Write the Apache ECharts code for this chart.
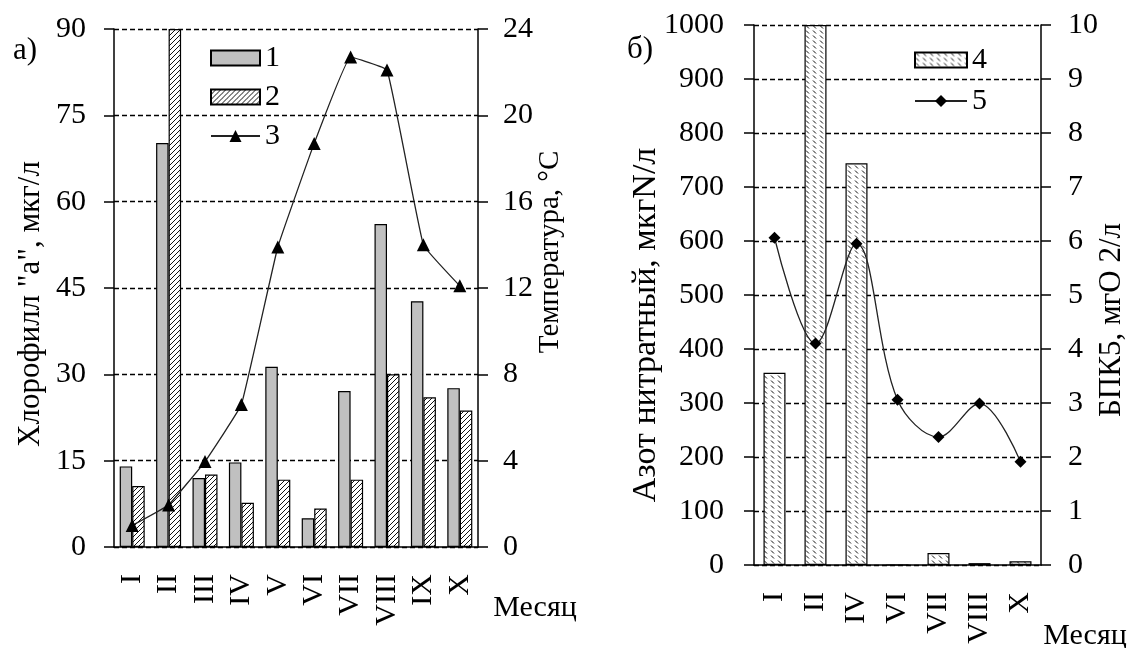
<!DOCTYPE html>
<html>
<head>
<meta charset="utf-8">
<script src="https://cdn.jsdelivr.net/npm/echarts@6/dist/echarts.min.js"></script>
<style>
  html, body { margin: 0; background: #fff; }
  #chart { width: 1131px; height: 648px; }
</style>
</head>
<body>
<div id="chart"></div>
<script>
// panel a) chlorophyll "a" (bars) and water temperature (line)
var monthsA = ['I', 'II', 'III', 'IV', 'V', 'VI', 'VII', 'VIII', 'IX', 'X'];
var chl1 = [14.0, 70.2, 12.0, 14.7, 31.3, 5.0, 27.1, 56.1, 42.7, 27.6];
var chl2 = [10.6, 90.0, 12.6, 7.7, 11.7, 6.7, 11.7, 30.0, 26.0, 23.7];
var temperature = [1.0, 1.95, 3.96, 6.6, 13.9, 18.7, 22.7, 22.1, 14.0, 12.1];

// panel б) nitrate nitrogen (bars) and BOD5 (line)
var monthsB = ['I', 'II', 'IV', 'VI', 'VII', 'VIII', 'X'];
var nitrate = [356, 1000, 744, 0, 22, 3.5, 7];
var bod5 = [6.06, 4.10, 5.95, 3.06, 2.37, 2.99, 1.91];

// axis ranges [min, max, interval]
var chlAxis = [0, 90, 15];
var tempAxis = [0, 24, 4];
var nitrAxis = [0, 1000, 100];
var bodAxis = [0, 10, 1];

var FONT = 'Liberation Serif';
var INK = '#000';
var FS = 30;

// fill patterns, drawn on small canvases
function tile(w, h, draw) {
  var c = document.createElement('canvas');
  c.width = w; c.height = h;
  var g = c.getContext('2d');
  g.fillStyle = '#fff';
  g.fillRect(0, 0, w, h);
  g.strokeStyle = '#111';
  g.lineWidth = 1;
  draw(g, w, h);
  return { image: c, repeat: 'repeat' };
}
var slash = tile(5, 5, function (g, w, h) {
  g.beginPath();
  g.moveTo(-1, h + 1); g.lineTo(w + 1, -1);
  g.moveTo(-1, 1); g.lineTo(1, -1);
  g.moveTo(w - 1, h + 1); g.lineTo(w + 1, h - 1);
  g.stroke();
});
var dashes = tile(7, 5, function (g) {
  g.beginPath();
  g.moveTo(1, 0.5); g.lineTo(4, 3.5);
  g.stroke();
});

function yAxis(grid, r, pos, margin, split) {
  return {
    type: 'value', gridIndex: grid, min: r[0], max: r[1], interval: r[2], position: pos,
    axisLine: { show: true, lineStyle: { color: INK, width: 1.5 } },
    axisTick: { show: true, length: 10, lineStyle: { color: INK, width: 1.5 } },
    axisLabel: {
      margin: margin, fontSize: FS, fontFamily: FONT, color: INK,
      formatter: function (v) { return String(v); }
    },
    splitLine: { show: split, lineStyle: { color: INK, width: 1.3, type: [5, 3] } }
  };
}
function xAxis(grid, data) {
  return {
    type: 'category', gridIndex: grid, data: data,
    axisLine: { lineStyle: { color: INK, width: 1.5 } },
    axisTick: { length: 10, lineStyle: { color: INK, width: 1.5 } },
    axisLabel: { rotate: 90, margin: 27, interval: 0, fontSize: FS, fontFamily: FONT, color: INK }
  };
}
function label(text, x, y, size, rot) {
  return {
    type: 'text', x: x, y: y, rotation: rot || 0,
    style: {
      text: text, fontSize: size, fontFamily: FONT, fill: INK,
      align: 'center', verticalAlign: 'middle'
    }
  };
}

var chart = echarts.init(document.getElementById('chart'));
chart.setOption({
  animation: false,
  textStyle: { fontFamily: FONT, color: INK },
  grid: [
    { left: 114, right: 653, top: 29, bottom: 101 },
    { left: 754, right: 90, top: 25, bottom: 83 }
  ],
  xAxis: [xAxis(0, monthsA), xAxis(1, monthsB)],
  yAxis: [
    yAxis(0, chlAxis, 'left', 28, true),
    yAxis(0, tempAxis, 'right', 25, false),
    yAxis(1, nitrAxis, 'left', 30, true),
    yAxis(1, bodAxis, 'right', 27, false)
  ],
  legend: [
    {
      data: [{ name: '1', icon: 'rect' }, { name: '2', icon: 'rect' }, '3'],
      orient: 'vertical', left: 210, top: 43, padding: 0,
      itemWidth: 49, itemHeight: 15, itemGap: 9,
      textStyle: { fontSize: FS, fontFamily: FONT, color: INK, lineHeight: 29 }
    },
    {
      data: [{ name: '4', icon: 'rect' }, '5'],
      orient: 'vertical', left: 914, top: 45, padding: 0,
      itemWidth: 52, itemHeight: 15, itemGap: 11,
      textStyle: { fontSize: FS, fontFamily: FONT, color: INK, lineHeight: 29 }
    }
  ],
  graphic: [
    label('Хлорофилл "а", мкг/л', 31, 304, 31, Math.PI / 2),
    label('Температура, °С', 550, 252, 29, Math.PI / 2),
    label('Азот нитратный, мкгN/л', 646, 325, 34, Math.PI / 2),
    label('БПК5, мгО 2/л', 1112, 320, 31, Math.PI / 2),
    label('а)', 25, 51, 31),
    label('б)', 640, 50, 31),
    label('Месяц', 535, 608, 30),
    label('Месяц', 1085, 636, 30)
  ],
  series: [
    {
      name: '1', type: 'bar', xAxisIndex: 0, yAxisIndex: 0, data: chl1,
      barWidth: 12.5, barGap: '0%',
      itemStyle: { color: '#c0c0c0', borderColor: INK, borderWidth: 1.2 }
    },
    {
      name: '2', type: 'bar', xAxisIndex: 0, yAxisIndex: 0, data: chl2,
      barWidth: 12.5, barGap: '0%',
      itemStyle: { color: slash, borderColor: INK, borderWidth: 1.2 }
    },
    {
      name: '3', type: 'line', xAxisIndex: 0, yAxisIndex: 1, data: temperature,
      smooth: 0.08, symbol: 'triangle', symbolSize: 13,
      lineStyle: { color: '#222', width: 1.3 },
      itemStyle: { color: INK }
    },
    {
      name: '4', type: 'bar', xAxisIndex: 1, yAxisIndex: 2, data: nitrate,
      barWidth: 22,
      itemStyle: { color: dashes, borderColor: INK, borderWidth: 1.2 }
    },
    {
      name: '5', type: 'line', xAxisIndex: 1, yAxisIndex: 3, data: bod5,
      smooth: 0.35, symbol: 'diamond', symbolSize: 12,
      lineStyle: { color: '#222', width: 1.3 },
      itemStyle: { color: INK }
    }
  ]
});
</script>
</body>
</html>
